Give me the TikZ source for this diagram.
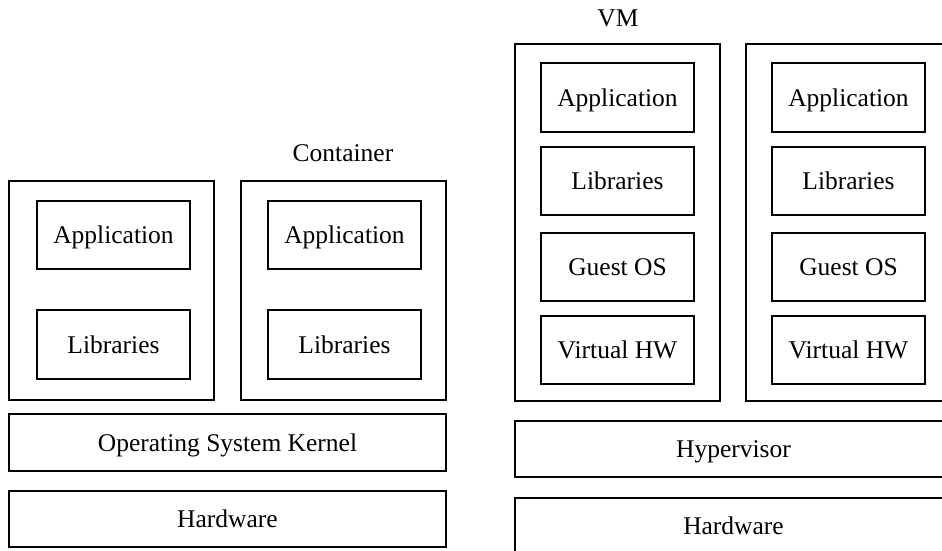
\documentclass[tikz,border=0pt]{standalone}
\usepackage{fontspec}
\setmainfont{Liberation Serif}
\begin{document}
\begin{tikzpicture}[x=1pt,y=-1pt,
  layer/.style={draw=black, line width=1.6pt, inner sep=0pt, outer sep=0pt,
    anchor=north west, align=center, text height=19pt, text depth=2pt,
    font=\fontsize{25.5}{30}\selectfont},
  caption/.style={inner sep=0pt, font=\fontsize{25.5}{30}\selectfont}]
% page area
\useasboundingbox (0,0) rectangle (942,551);
\clip (0,0) rectangle (942,551);

% ---------- container stack ----------
\node[caption] (ctitle) at (343,153) {Container};
\node[layer, minimum width=205, minimum height=219] (c1) at (9,181) {};
\node[layer, minimum width=205, minimum height=219] (c2) at (241,181) {};
\node[layer, minimum width=153, minimum height=68] (c1app) at (37,201) {Application};
\node[layer, minimum width=153, minimum height=69] (c1lib) at (37,310) {Libraries};
\node[layer, minimum width=153, minimum height=68] (c2app) at (268,201) {Application};
\node[layer, minimum width=153, minimum height=69] (c2lib) at (268,310) {Libraries};
\node[layer, minimum width=437, minimum height=57] (kernel) at (9,414) {Operating System Kernel};
\node[layer, minimum width=437, minimum height=56] (hwl) at (9,491) {Hardware};

% ---------- virtual machine stack ----------
\node[caption] (vtitle) at (618,18) {VM};
\node[layer, minimum width=205, minimum height=357] (vm1) at (515,44) {};
\node[layer, minimum width=205, minimum height=357] (vm2) at (746,44) {};
\foreach \x/\k in {541/1,772/2}{
  \node[layer, minimum width=153, minimum height=69] (v\k app) at (\x,63) {Application};
  \node[layer, minimum width=153, minimum height=68] (v\k lib) at (\x,147) {Libraries};
  \node[layer, minimum width=153, minimum height=68] (v\k os)  at (\x,233) {Guest OS};
  \node[layer, minimum width=153, minimum height=68] (v\k hw)  at (\x,316) {Virtual HW};
}
\node[layer, minimum width=437, minimum height=56] (hyper) at (515,421) {Hypervisor};
\node[layer, minimum width=437, minimum height=56] (hwr) at (515,498) {Hardware};
\end{tikzpicture}
\end{document}
